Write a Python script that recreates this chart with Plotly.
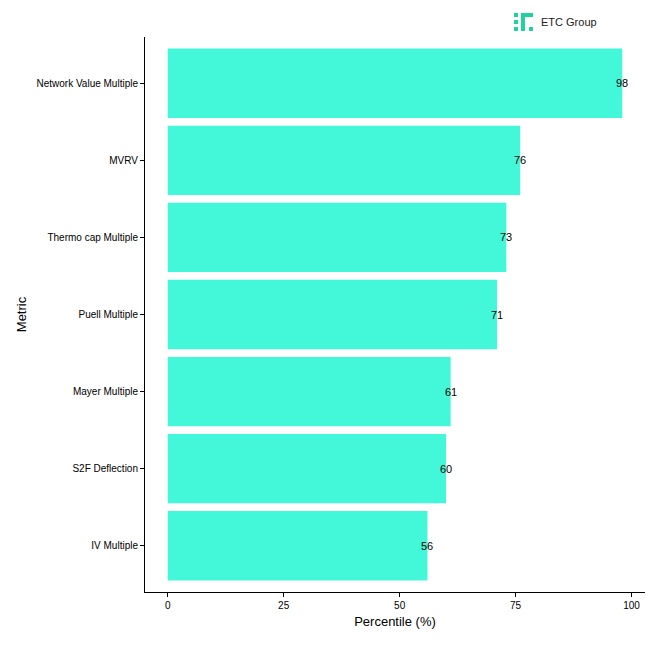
import plotly.graph_objects as go

metrics = ["IV Multiple", "S2F Deflection", "Mayer Multiple", "Puell Multiple",
           "Thermo cap Multiple", "MVRV", "Network Value Multiple"]
percentiles = [56, 60, 61, 71, 73, 76, 98]

# target plot area on screen: x 145..645, y 37..592 (page has 8px body offset)
X0, X1, Y0, Y1 = 145, 645, 37, 592
OFF = 8

def px(x):
    return (x - X0) / (X1 - X0)

def py(y):
    return (Y1 - y) / (Y1 - Y0)

fig = go.Figure()
fig.add_trace(go.Bar(
    x=percentiles, y=metrics, orientation="h", width=0.9,
    marker=dict(color="#43F8D8", line=dict(width=0)),
))
# labels centred on bar end like ggplot
for m, v in zip(metrics, percentiles):
    fig.add_annotation(x=v, y=m, text=str(v), showarrow=False,
                       font=dict(size=11, color="black", family="Liberation Sans"))

# logo
logo = "#1FD2A0"
for (x0, y0, x1, y1) in [(514, 13, 518, 17), (514, 20, 518, 24), (514, 27, 518, 31),
                         (521, 13, 525, 31), (521, 13, 533, 17), (529, 27, 533, 31)]:
    fig.add_shape(type="rect", xref="paper", yref="paper",
                  x0=px(x0), x1=px(x1), y0=py(y1), y1=py(y0),
                  fillcolor=logo, line=dict(width=0))
fig.add_annotation(xref="paper", yref="paper", x=px(539), y=py(22), xanchor="left",
                   yanchor="middle", text="ETC Group", showarrow=False,
                   font=dict(size=11, color="#222", family="Liberation Sans"))

fig.update_layout(
    width=661, height=661,
    margin=dict(l=X0 - OFF, r=661 + OFF - X1, t=Y0 - OFF, b=661 + OFF - Y1),
    plot_bgcolor="white", paper_bgcolor="white", showlegend=False,
    font=dict(family="Liberation Sans", size=10, color="black"),
    xaxis=dict(range=[-4.9, 102.9], tickvals=[0, 25, 50, 75, 100], showgrid=False,
               zeroline=False, showline=True, linecolor="black", linewidth=1,
               ticks="outside", ticklen=4, tickcolor="black",
               title=dict(text="Percentile (%)", font=dict(size=13), standoff=6)),
    yaxis=dict(range=[-0.6, 6.6], showgrid=False, zeroline=False, showline=True,
               linecolor="black", linewidth=1, ticks="outside", ticklen=4,
               tickcolor="black",
               title=dict(text="Metric", font=dict(size=13), standoff=6)),
)
fig.write_html("out.html")
